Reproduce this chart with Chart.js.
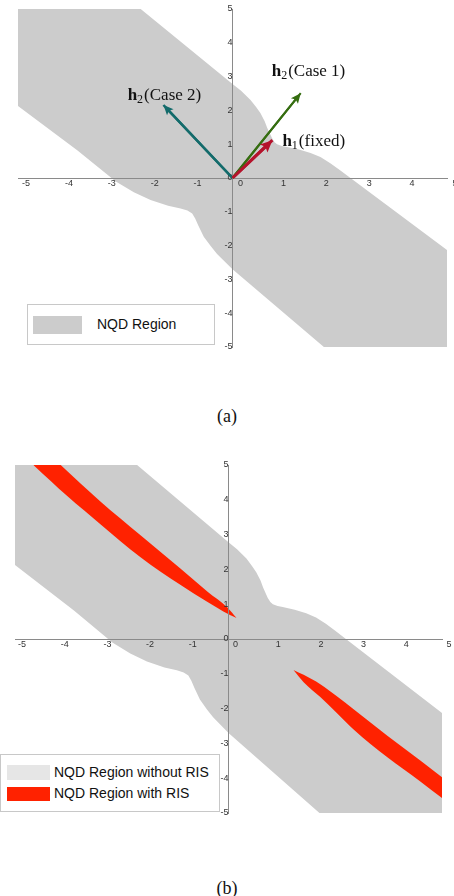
<!DOCTYPE html>
<html lang="en">
<head>
<meta charset="UTF-8">
<meta name="viewport" content="width=device-width, initial-scale=1.0">
<title>NQD Region</title>
<style>
  body {
    margin: 0;
    padding: 0;
    background: #fff;
    width: 454px;
    height: 896px;
    position: relative;
    overflow: hidden;
    font-family: "Liberation Sans", Arial, sans-serif;
  }
  canvas { position: absolute; left: 0; }
  #chartA { top: 0; }
  #chartB { top: 450px; }
  .legend {
    position: absolute;
    box-sizing: border-box;
    background: #fff;
    border: 1px solid #c8c8c8;
    font-size: 14px;
    color: #111;
  }
  .legend .sw { position: absolute; }
  .legend .tx { position: absolute; white-space: nowrap; line-height: 16px; }
  .caption {
    position: absolute;
    left: 0;
    width: 454px;
    text-align: center;
    font-family: "Liberation Serif", "Times New Roman", serif;
    font-size: 18px;
    line-height: 20px;
    color: #111;
  }
</style>
</head>
<body>
  <canvas id="chartA" width="454" height="360"></canvas>
  <canvas id="chartB" width="454" height="380"></canvas>
  <div id="legendA" class="legend" style="left:27px; top:304px; width:188px; height:41px;"></div>
  <div id="legendB" class="legend" style="left:0px; top:754px; width:220px; height:58px;"></div>
  <div class="caption" style="top:406px;">(a)</div>
  <div class="caption" style="top:878px;">(b)</div>

  <script src="https://cdn.jsdelivr.net/npm/chart.js"></script>
  <script>
    // grey NQD region: upper and lower boundary (shared by both panels)
    const nqdUpperX = [-5, -2.14, 0, 0.2, 0.42, 0.55, 0.65, 0.75, 0.81, 0.92, 0.98, 1.04, 1.15, 1.27, 1.55, 1.82, 2.05, 2.28, 2.5, 2.75, 5];
    const nqdUpperY = [5, 5, 2.78, 2.58, 2.31, 2.1, 1.92, 1.68, 1.48, 1.18, 1.06, 1.0, 0.95, 0.92, 0.84, 0.74, 0.62, 0.44, 0.24, 0, -2.13];
    const nqdLowerX = [-5, -3.62, -2.72, -2.3, -1.91, -1.5, -1.21, -1.05, -0.94, -0.87, -0.8, -0.67, -0.5, -0.36, 0, 2.13, 5];
    const nqdLowerY = [2.13, 0.82, -0.1, -0.42, -0.65, -0.82, -0.9, -0.96, -1.05, -1.2, -1.4, -1.74, -2.03, -2.25, -2.7, -5, -5];

    // red NQD region with RIS, panel (b): two lenses, each an upper and lower edge
    // (the left lens runs on past the top of the plot, where it is clipped)
    const risLeftTopX = [-4.57, -3.93, -3.0, -2.06, -1.12, -0.49, -0.02, 0.19];
    const risLeftTopY = [5.7, 5, 3.95, 2.98, 2.02, 1.36, 0.9, 0.6];
    const risLeftBotX = [-4.57, -3.77, -3.0, -2.06, -1.12, -0.49, -0.12, 0.19];
    const risLeftBotY = [5, 4.1, 3.3, 2.35, 1.55, 1.06, 0.79, 0.6];
    const risRightTopX = [1.52, 1.76, 2.15, 2.53, 2.93, 3.72, 4.5, 5];
    const risRightTopY = [-0.89, -1.03, -1.3, -1.64, -2.02, -2.78, -3.5, -3.97];
    const risRightBotX = [1.52, 1.76, 2.15, 2.53, 2.93, 3.72, 4.5, 5];
    const risRightBotY = [-0.89, -1.24, -1.67, -2.12, -2.6, -3.4, -4.1, -4.57];

    // channel vectors, panel (a)
    const arrowSub = ['2', '2', '1'];
    const arrowText = ['(Case 2)', '(Case 1)', '(fixed)'];
    const arrowTipX = [-1.61, 1.59, 0.93];
    const arrowTipY = [2.16, 2.51, 1.12];

    const legendA = ['NQD Region'];
    const legendB = ['NQD Region without RIS', 'NQD Region with RIS'];

    const pts = (xs, ys) => xs.map((x, i) => ({ x: x, y: ys[i] }));
    const GREY = '#cccccc';
    const RED = '#ff2200';

    function band(label, upper, lower, color, order, smooth) {
      const curve = smooth ? { tension: 0.4, cubicInterpolationMode: 'monotone' } : {};
      return [
        Object.assign({ label: label, data: upper, showLine: true, borderWidth: 0, fill: '+1', backgroundColor: color, order: order }, curve),
        Object.assign({ label: '', data: lower, showLine: true, borderWidth: 0, fill: false, order: order }, curve)
      ];
    }

    // arrow heads and the h labels
    const arrowDecor = {
      id: 'arrowDecor',
      afterDraw(chart) {
        const ctx = chart.ctx;
        chart.data.datasets.forEach((ds, i) => {
          if (!ds.arrow) return;
          const el = chart.getDatasetMeta(i).data;
          const a = el[0], b = el[1];
          const ang = Math.atan2(b.y - a.y, b.x - a.x);
          const c = Math.cos(ang), s = Math.sin(ang);
          const L = ds.arrow.head, W = ds.arrow.half;
          ctx.save();
          // shaft redrawn over the axes
          ctx.strokeStyle = ds.borderColor;
          ctx.lineWidth = ds.borderWidth;
          ctx.beginPath();
          ctx.moveTo(a.x, a.y);
          ctx.lineTo(b.x - L * 0.6 * c, b.y - L * 0.6 * s);
          ctx.stroke();
          ctx.fillStyle = ds.borderColor;
          ctx.beginPath();
          ctx.moveTo(b.x, b.y);
          ctx.lineTo(b.x - L * c + W * s, b.y - L * s - W * c);
          ctx.lineTo(b.x - L * 0.8 * c, b.y - L * 0.8 * s);
          ctx.lineTo(b.x - L * c - W * s, b.y - L * s + W * c);
          ctx.closePath();
          ctx.fill();

          // label: bold h, subscript, then the case text
          const fam = '"Liberation Serif", "Times New Roman", serif';
          const bold = 'bold 17px ' + fam, sub = '12px ' + fam, reg = '17px ' + fam;
          ctx.fillStyle = '#111';
          ctx.textBaseline = 'alphabetic';
          ctx.font = bold; const w1 = ctx.measureText('h').width;
          ctx.font = sub; const w2 = ctx.measureText(ds.arrow.sub).width;
          ctx.font = reg; const w3 = ctx.measureText(ds.arrow.text).width;
          const total = w1 + w2 + 1 + w3;
          let x = b.x + ds.arrow.dx;
          if (ds.arrow.align === 'center') x -= total / 2;
          const y = b.y + ds.arrow.dy + 5;
          ctx.textAlign = 'left';
          ctx.font = bold; ctx.fillText('h', x, y);
          ctx.font = sub; ctx.fillText(ds.arrow.sub, x + w1, y + 3);
          ctx.font = reg; ctx.fillText(ds.arrow.text, x + w1 + w2 + 1, y);
          ctx.restore();
        });
      }
    };

    function makeChart(id, datasets, pad, labelOffset) {
      const tickFont = { family: '"Liberation Sans", Arial, sans-serif', size: 9 };
      return new Chart(document.getElementById(id), {
        type: 'scatter',
        data: { datasets: datasets },
        options: {
          responsive: false,
          animation: false,
          layout: { padding: pad },
          events: [],
          plugins: { legend: { display: false }, tooltip: { enabled: false } },
          elements: { point: { radius: 0, hoverRadius: 0 }, line: { tension: 0 } },
          scales: {
            x: {
              type: 'linear', min: -5, max: 5, position: { y: 0 },
              afterFit: s => { s.height = 0; },
              grid: { display: false, drawTicks: false },
              border: { color: '#8a8a8a', width: 1, z: 1 },
              ticks: { z: 1, stepSize: 1, autoSkip: false, maxRotation: 0, padding: 0, labelOffset: labelOffset, color: '#333', font: tickFont }
            },
            y: {
              type: 'linear', min: -5, max: 5, position: { x: 0 },
              afterFit: s => { s.width = 0; },
              grid: { display: false, drawTicks: false },
              border: { color: '#8a8a8a', width: 1, z: 1 },
              ticks: { z: 1, stepSize: 1, autoSkip: false, padding: 0, color: '#333', font: tickFont }
            }
          }
        },
        plugins: [arrowDecor]
      });
    }

    // panel (a)
    const arrowColors = ['#136b6b', '#356d10', '#b5132c'];
    const arrowWidths = [2.5, 2, 3];
    const arrowSets = arrowTipX.map((tx, i) => ({
      label: 'h' + arrowSub[i] + arrowText[i],
      data: [{ x: 0, y: 0 }, { x: tx, y: arrowTipY[i] }],
      showLine: true,
      borderColor: arrowColors[i],
      borderWidth: arrowWidths[i],
      fill: false,
      order: 1,
      arrow: [
        { head: 10, half: 4.5, sub: arrowSub[0], text: arrowText[0], dx: 1, dy: -10, align: 'center' },
        { head: 10, half: 4.5, sub: arrowSub[1], text: arrowText[1], dx: -29, dy: -22, align: 'left' },
        { head: 12, half: 5.5, sub: arrowSub[2], text: arrowText[2], dx: 10, dy: 1, align: 'left' }
      ][i]
    }));

    makeChart('chartA',
      band(legendA[0], pts(nqdUpperX, nqdUpperY), pts(nqdLowerX, nqdLowerY), GREY, 3, false).concat(arrowSets),
      { left: 18, right: 7, top: 9, bottom: 13 }, 8);

    // panel (b)
    makeChart('chartB',
      band(legendB[0], pts(nqdUpperX, nqdUpperY), pts(nqdLowerX, nqdLowerY), GREY, 3, false)
        .concat(band(legendB[1], pts(risLeftTopX, risLeftTopY), pts(risLeftBotX, risLeftBotY), RED, 2, true))
        .concat(band('', pts(risRightTopX, risRightTopY), pts(risRightBotX, risRightBotY), RED, 2, true)),
      { left: 15, right: 12, top: 15, bottom: 17 }, 7);

    // legends
    function fillLegend(el, items) {
      items.forEach(it => {
        const sw = document.createElement('div');
        sw.className = 'sw';
        sw.style.cssText = 'left:' + it.sx + 'px;top:' + it.sy + 'px;width:' + it.sw + 'px;height:' + it.sh + 'px;background:' + it.color;
        const tx = document.createElement('div');
        tx.className = 'tx';
        tx.style.cssText = 'left:' + it.tx + 'px;top:' + it.ty + 'px';
        tx.textContent = it.text;
        el.appendChild(sw);
        el.appendChild(tx);
      });
    }
    fillLegend(document.getElementById('legendA'), [
      { text: legendA[0], color: GREY, sx: 5, sy: 11, sw: 49, sh: 18, tx: 69, ty: 11 }
    ]);
    fillLegend(document.getElementById('legendB'), [
      { text: legendB[0], color: '#e6e6e6', sx: 6, sy: 10, sw: 43, sh: 15, tx: 53, ty: 9 },
      { text: legendB[1], color: RED, sx: 6, sy: 32, sw: 43, sh: 14, tx: 53, ty: 30 }
    ]);
  </script>
</body>
</html>
